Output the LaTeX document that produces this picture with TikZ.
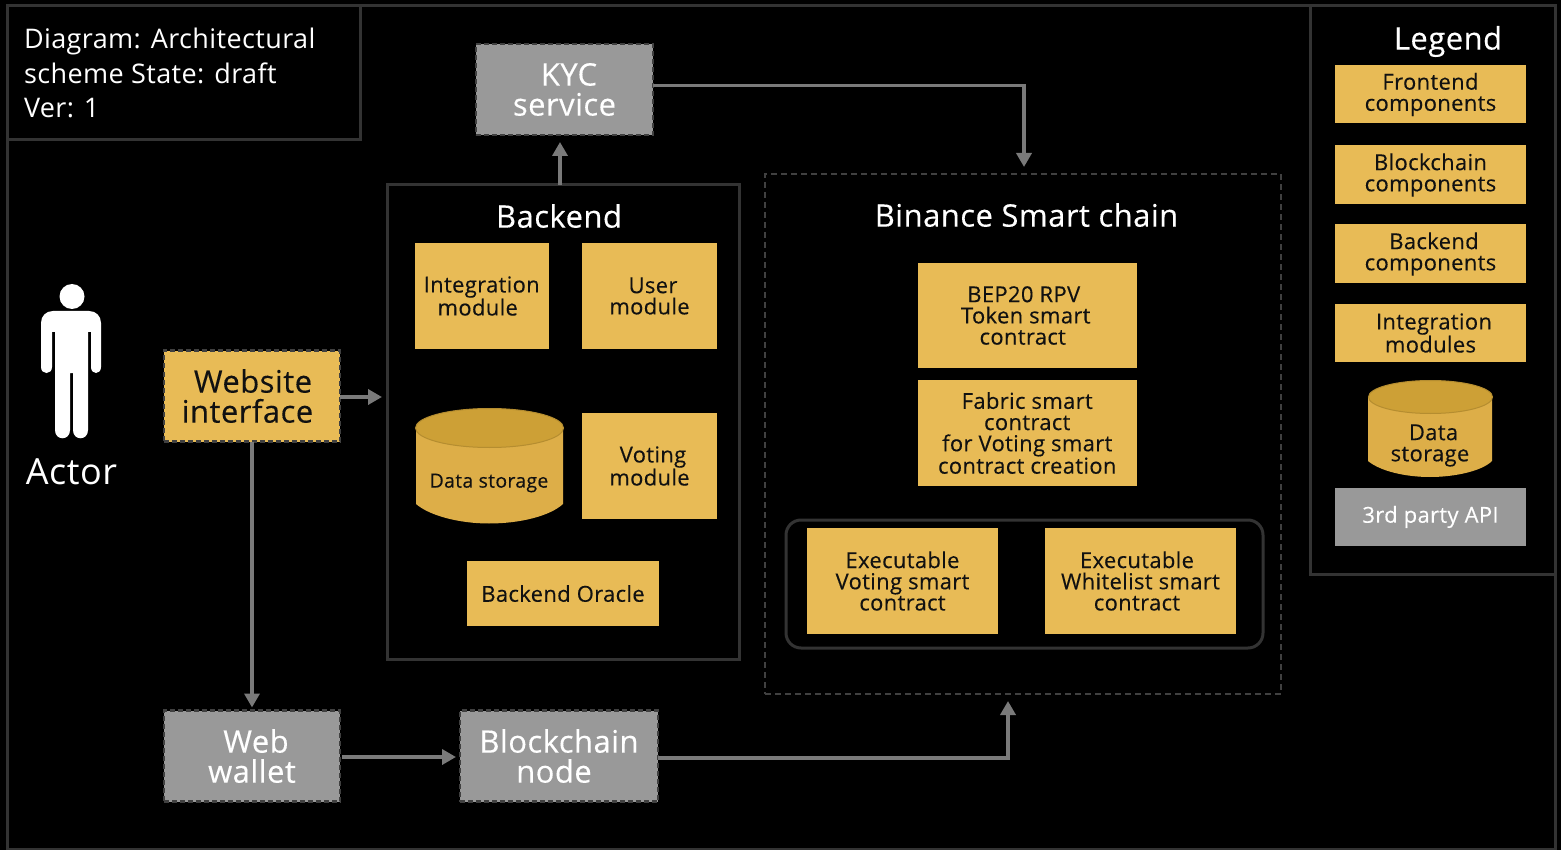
\documentclass[tikz,border=0pt]{standalone}
\usepackage{fontspec}
\setmainfont[LetterSpace=1.5]{Open Sans}
\newfontfamily\medfont[LetterSpace=1.5,FakeBold=0.25]{Open Sans}
\usetikzlibrary{arrows.meta}
\definecolor{bord}{HTML}{333333}
\definecolor{gold}{HTML}{E8BB56}
\definecolor{cyl}{HTML}{DDAE48}
\definecolor{cyltop}{HTML}{CDA036}
\definecolor{cyledge}{HTML}{B58D30}
\definecolor{grey}{HTML}{999999}
\definecolor{dash}{HTML}{404040}
\definecolor{wire}{HTML}{7A7A7A}
\definecolor{ink}{HTML}{111111}
\newcommand{\fs}[2]{\fontsize{#1}{#2}\selectfont}
\tikzset{
  x=1pt,y=-1pt,
  every node/.style={outer sep=0pt},
  frame/.style={draw=bord,line width=3pt,fill=none},
  sbox/.style={fill=gold,draw=none,text=ink,align=center,inner sep=0pt,font=\medfont\fs{22}{21.2}},
  gbox/.style={fill=grey,draw=none,text=white,align=center,inner sep=0pt,font=\medfont\fs{22}{21.2}},
  dgold/.style={fill=gold,draw=dash,line width=2.5pt,dash pattern=on 5pt off 3pt,text=ink,align=center,inner sep=0pt,font=\medfont\fs{31}{30}},
  dgrey/.style={fill=grey,draw=dash,line width=2.5pt,dash pattern=on 5pt off 3pt,text=white,align=center,inner sep=0pt,font=\medfont\fs{31}{30}},
  title/.style={text=white,align=center,inner sep=0pt,font=\medfont\fs{31}{30}},
  wirearrow/.style={draw=wire,line width=3.5pt,-{Triangle[length=14pt,width=15pt]}},
}
\newcommand{\bx}[7]{\node[#1,minimum width=#4-#2,minimum height=#5-#3,anchor=north west] (#6) at (#2,#3) {#7};}
\begin{document}
\begin{tikzpicture}
\useasboundingbox (0,0) rectangle (1561,850);
\fill[black] (0,0) rectangle (1561,850);
% frames
\draw[frame] (7,6) -- (1555,6) -- (1555,849) -- (7,849) -- cycle;
\draw[frame] (7,6) rectangle (360,140);
\draw[frame] (1310,6) rectangle (1555,574);
\node[text=white,font=\fs{27}{34.5},align=left,anchor=north west,inner sep=0pt] (info) at (24,28) {Diagram: Architectural\\scheme State: draft\\Ver: 1};
% actor
\fill[white] (72,296.5) circle (12.5);
\fill[white] (53,311) -- (89,311) .. controls (96,311) and (101,316) .. (101,323) -- (101,367)
  .. controls (101,375) and (91,375) .. (91,367) -- (91,332) -- (88,332) -- (88,430)
  .. controls (88,441) and (73,441) .. (73,430) -- (73,373) -- (70,373) -- (70,430)
  .. controls (70,441) and (55,441) .. (55,430) -- (55,332) -- (52,332) -- (52,367)
  .. controls (52,375) and (41,375) .. (41,367) -- (41,323) .. controls (41,316) and (46,311) .. (53,311) -- cycle;
\node[text=white,inner sep=0pt,font=\fs{36}{34}] (actor) at (71.5,472) {Actor};
% dashed service boxes
\bx{dgrey}{476}{44}{653}{135}{kyc}{\hspace*{9pt}KYC\\service}
\bx{dgold}{164}{350.5}{340}{441.5}{web}{\hspace*{2pt}Website\\\hspace*{-9pt}interface}
\bx{dgrey}{164}{710.5}{340}{801.5}{wallet}{\hspace*{8pt}Web\\wallet}
\bx{dgrey}{460}{710.5}{658}{801.5}{bnode}{Blockchain\\\hspace*{-10pt}node}
% backend
\node[frame,minimum width=352pt,minimum height=474pt,anchor=north west,inner sep=0pt] (backend) at (387,185) {};
\node[title] (backendt) at (559,216) {Backend};
\bx{sbox}{414.5}{243}{549}{349}{integ}{Integration\\\hspace*{-8pt}module}
\bx{sbox}{582}{243}{717}{349}{user}{\hspace*{7pt}User\\module}
\bx{sbox}{582}{413}{717}{519}{voting}{\hspace*{7pt}Voting\\module}
\bx{sbox}{467}{561}{659}{626}{oracle}{Backend Oracle}
% backend cylinder
\path[fill=cyl] (416,428) -- (416,504) .. controls (430,516) and (460,523.5) .. (489,523.5) .. controls (520,523.5) and (550,516) .. (563,504) -- (563,428) -- cycle;
\draw[fill=cyltop,draw=cyledge,line width=1pt] (489.5,428) ellipse (74 and 19.5);
\node[text=ink,font=\medfont\fs{19.5}{20},inner sep=0pt] (store) at (489,483) {Data storage};
% binance
\node[draw=dash,line width=1.5pt,dash pattern=on 6pt off 4pt,minimum width=516pt,minimum height=520pt,anchor=north west,inner sep=0pt] (bsc) at (765,174) {};
\node[title] (bsct) at (1026.5,215) {Binance Smart chain};
\bx{sbox}{917.5}{263}{1137}{368}{bep}{\hspace*{-7pt}BEP20 RPV\\\hspace*{-3pt}Token smart\\\hspace*{-9pt}contract}
\bx{sbox}{917.5}{380}{1137}{486}{fabric}{Fabric smart\\contract\\for Voting smart\\contract creation}
\node[draw=bord,line width=3pt,rounded corners=15pt,minimum width=477pt,minimum height=128pt,anchor=north west,inner sep=0pt] (group) at (786,520) {};
\bx{sbox}{807}{528}{998}{634}{execv}{Executable\\Voting smart\\contract}
\bx{sbox}{1045}{528}{1236}{634}{execw}{\hspace*{-7pt}Executable\\Whitelist smart\\\hspace*{-7pt}contract}
% legend
\node[title] (legendt) at (1448,41.5) {Legend};
\bx{sbox}{1335}{65.5}{1526}{123.5}{l1}{Frontend\\components}
\bx{sbox}{1335}{145.5}{1526}{204.5}{l2}{Blockchain\\components}
\bx{sbox}{1335}{224.5}{1526}{283.5}{l3}{\hspace*{7pt}Backend\\components}
\bx{sbox}{1335}{304}{1526}{362}{l4}{\hspace*{7pt}Integration\\modules}
\path[fill=cyl] (1368,397) -- (1368,461) .. controls (1380,471) and (1405,477) .. (1430,477) .. controls (1455,477) and (1482,471) .. (1492,461) -- (1492,397) -- cycle;
\draw[fill=cyltop,draw=cyledge,line width=1pt] (1430.5,397) ellipse (62 and 16.5);
\node[text=ink,align=center,font=\medfont\fs{22}{21.2},inner sep=0pt] (lstore) at (1430,445.5) {\hspace*{7pt}Data\\storage};
\bx{gbox}{1335}{488}{1526}{546}{l6}{3rd party API}
% connectors
\draw[wirearrow] ([yshift=4pt]kyc.east) -| ([xshift=1pt,yshift=7pt]bsc.north);
\draw[wirearrow] ([xshift=-3pt]backend.north) -- ([xshift=-4.5pt,yshift=-7pt]kyc.south);
\draw[wirearrow] ([yshift=-1pt]web.east) -- ([xshift=-5pt,yshift=-1pt]backend.west |- web.east);
\draw[wirearrow] (web.south) -- ([yshift=3pt]wallet.north);
\draw[wirearrow] ([xshift=2pt,yshift=-1pt]wallet.east) -- ([xshift=-4pt,yshift=-1pt]bnode.west);
\draw[wirearrow] ([yshift=-2pt]bnode.east) -| ([xshift=-15pt,yshift=-7pt]bsc.south);
\end{tikzpicture}
\end{document}
